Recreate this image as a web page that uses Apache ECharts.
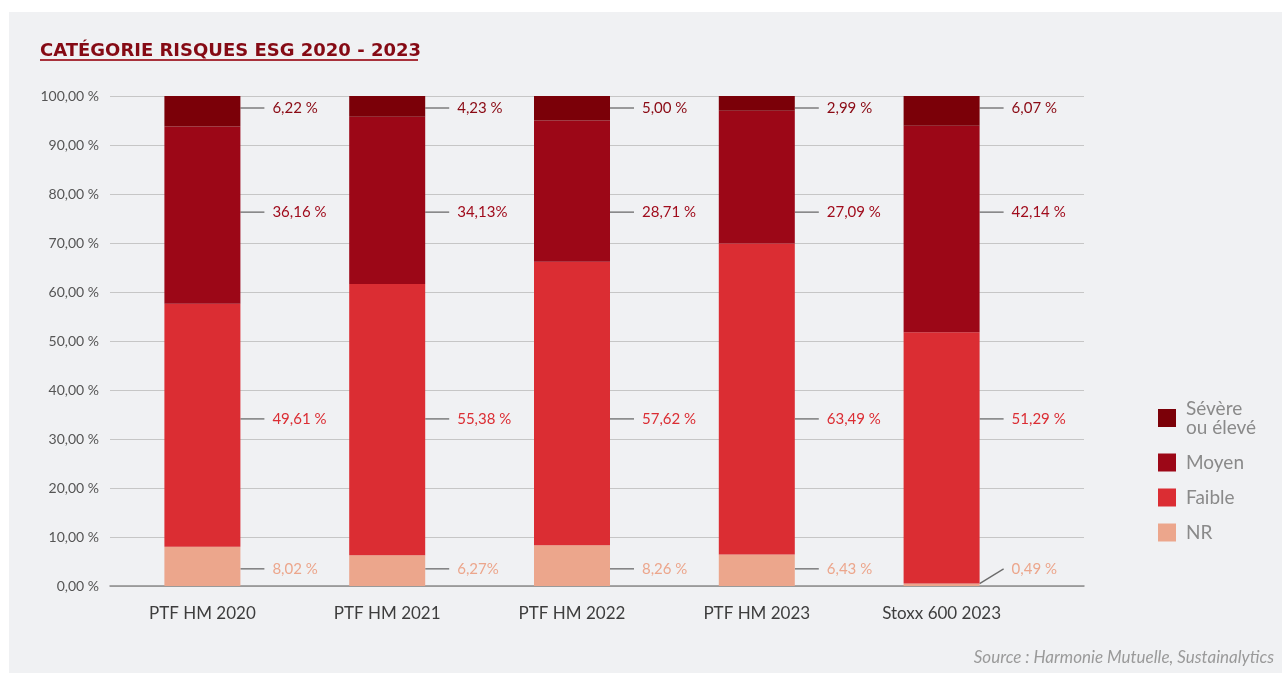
<!DOCTYPE html>
<html>
<head>
<meta charset="utf-8">
<script src="https://cdn.jsdelivr.net/npm/echarts@6/dist/echarts.min.js"></script>
<style>
  html, body { margin: 0; padding: 0; background: #fff; }
  #chart { position: absolute; left: 9px; top: 12px; width: 1273px; height: 661px; background: #f0f1f3; }
</style>
</head>
<body>
<div id="chart"></div>
<script>
const categories = ['PTF HM 2020', 'PTF HM 2021', 'PTF HM 2022', 'PTF HM 2023', 'Stoxx 600 2023']

// valeurs (%)
const nr = [8.02, 6.27, 8.26, 6.43, 0.49]
const faible = [49.61, 55.38, 57.62, 63.49, 51.29]
const moyen = [36.16, 34.13, 28.71, 27.09, 42.14]
const severe = [6.22, 4.23, 5.00, 2.99, 6.07]

// textes des étiquettes tels qu'écrits sur l'original
const nrLabels = ['8,02 %', '6,27%', '8,26 %', '6,43 %', '0,49 %']
const faibleLabels = ['49,61 %', '55,38 %', '57,62 %', '63,49 %', '51,29 %']
const moyenLabels = ['36,16 %', '34,13%', '28,71 %', '27,09 %', '42,14 %']
const severeLabels = ['6,22 %', '4,23 %', '5,00 %', '2,99 %', '6,07 %']

// hauteur (en % de l'axe) où chaque rangée d'étiquettes est alignée
const labelRows = { nr: 3.5, faible: 34.1, moyen: 76.3, severe: 97.55 }

const colors = { severe: '#7b0008', moyen: '#9c0717', faible: '#db2d33', nr: '#eca68c' }
const labelColors = { severe: '#8a0913', moyen: '#a00c1c', faible: '#db2d33', nr: '#eca68c' }

const FONT = 'Lato'

// empilement à 100 % : chaque colonne ramenée à son total
const totals = categories.map((c, i) => nr[i] + faible[i] + moyen[i] + severe[i])
const share = arr => arr.map((v, i) => v / totals[i] * 100)

const chart = echarts.init(document.getElementById('chart'))

const makeSeries = (name, key, values, texts) => ({
    name,
    type: 'bar',
    stack: 'total',
    xAxisIndex: 1,
    yAxisIndex: 1,
    barWidth: 76,
    itemStyle: { color: colors[key] },
    data: share(values),
    label: {
        show: true,
        position: 'right',
        distance: 24,
        formatter: p => '{s|}{v|' + texts[p.dataIndex] + '}',
        rich: {
            s: { width: 8 },
            v: { fontFamily: FONT, fontSize: 15, color: labelColors[key] }
        }
    },
    labelLine: { show: true, length2: 0, lineStyle: { color: '#6b6b6b', width: 1.3 } },
    labelLayout: params => {
        const y = chart.convertToPixel({ yAxisIndex: 1 }, labelRows[key])
        if (y == null || isNaN(y)) return {}
        return { dy: y - (params.labelRect.y + params.labelRect.height / 2) }
    }
})

chart.setOption({
    animation: false,
    textStyle: { fontFamily: FONT },
    title: [{
        left: 31,
        top: 31,
        padding: 0,
        text: '{t|CATÉGORIE RISQUES ESG 2020 - 2023}\n{u|}',
        textStyle: {
            rich: {
                t: { fontFamily: 'DejaVu Sans', fontSize: 18, fontWeight: 'bold', color: '#850a14', lineHeight: 16 },
                u: { width: 378, height: 2, backgroundColor: '#a8323b', lineHeight: 2 }
            }
        }
    }, {
        right: 8,
        top: 637,
        padding: 0,
        text: 'Source : Harmonie Mutuelle, Sustainalytics',
        textStyle: { fontFamily: FONT, fontSize: 17, fontStyle: 'italic', fontWeight: 'normal', color: '#9a9a9a' }
    }],
    legend: {
        orient: 'vertical',
        left: 1149,
        top: 387,
        padding: 0,
        itemWidth: 18,
        itemHeight: 18,
        itemGap: 16,
        icon: 'rect',
        data: ['Sévère ou élevé', 'Moyen', 'Faible', 'NR'],
        formatter: n => n.replace(' ou ', '\nou '),
        textStyle: { fontFamily: FONT, fontSize: 19, color: '#8a8a8a', lineHeight: 19, padding: [0, 0, 0, 5] }
    },
    grid: [
        { left: 101, right: 198, top: 84, bottom: 87 },
        { left: 101, width: 924, top: 84, bottom: 87 }
    ],
    xAxis: [{
        gridIndex: 0,
        type: 'category',
        data: [''],
        axisLine: { lineStyle: { color: '#8c8c8c', width: 1.5 } },
        axisTick: { show: false },
        axisLabel: { show: false }
    }, {
        gridIndex: 1,
        type: 'category',
        data: categories,
        axisLine: { show: false },
        axisTick: { show: false },
        axisLabel: { margin: 19, fontFamily: FONT, fontSize: 17, color: '#3d3d3d' }
    }],
    yAxis: [{
        gridIndex: 0,
        type: 'value',
        min: 0,
        max: 100,
        interval: 10,
        axisLine: { show: false },
        axisTick: { show: false },
        splitLine: { lineStyle: { color: '#c6c6c6', width: 1 } },
        axisLabel: {
            margin: 11,
            fontFamily: FONT,
            fontSize: 14,
            color: '#555',
            formatter: v => v.toFixed(2).replace('.', ',') + ' %'
        }
    }, {
        gridIndex: 1,
        type: 'value',
        min: 0,
        max: 100,
        show: false
    }],
    series: [
        makeSeries('NR', 'nr', nr, nrLabels),
        makeSeries('Faible', 'faible', faible, faibleLabels),
        makeSeries('Moyen', 'moyen', moyen, moyenLabels),
        makeSeries('Sévère ou élevé', 'severe', severe, severeLabels)
    ]
})
</script>
</body>
</html>
